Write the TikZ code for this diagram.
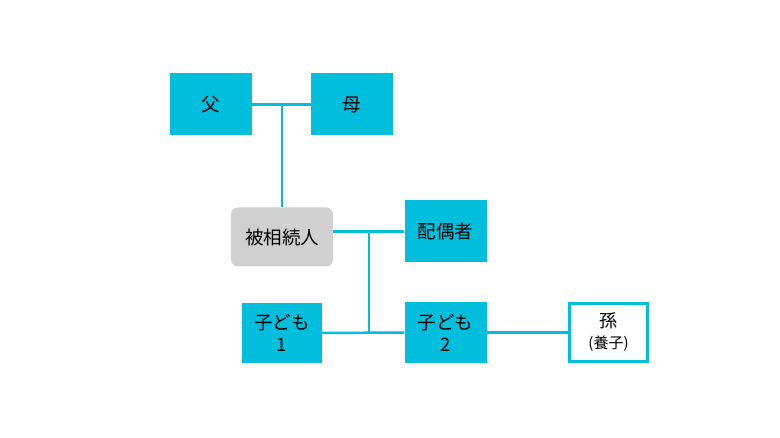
\documentclass[tikz,border=0pt]{standalone}
\usepackage{fontspec}
\newfontfamily\jpfont{Noto Sans CJK JP}
\usetikzlibrary{calc}
\definecolor{famcyan}{HTML}{00BEDC}
\definecolor{famgray}{HTML}{D0D0D0}
\tikzset{
  person/.style={fill=famcyan, draw=none, minimum width=82pt, minimum height=62pt,
    inner sep=0pt, align=center, font=\jpfont\fontsize{18.5}{22}\selectfont},
  heir/.style={person, fill=famgray, rounded corners=7pt, minimum width=102pt, minimum height=59pt},
  adopted/.style={person, fill=white, draw=famcyan, line width=2.8pt,
    minimum width=78pt, minimum height=58pt, font=\jpfont\fontsize{18}{21}\selectfont},
  link/.style={draw=famcyan, line width=2.5pt}
}
\begin{document}
\begin{tikzpicture}[x=1pt, y=-1pt]
                                \useasboundingbox (0,0) rectangle (780,438);

                                \node[person] (father) at (211,104.5) {父};
                                \node[person] (mother) at (352,104.5) {母};
                                \node[heir] (heir) at (282,237) {被相続人};
                                \node[person] (spouse) at (445.5,231.5) {配偶者};
                                \node[person, minimum width=80pt, minimum height=60pt] (childa) at (282,333) {子ども\\1};
                                \node[person, minimum height=61pt] (childb) at (445.5,332.5) {子ども\\2};
                                \node[adopted] (grandchild) at (608.5,332.5) {孫\\{\fontsize{15}{16}\selectfont (養子)}};

                                \draw[link] (father.east) -- (mother.west);
                                \draw[link] (heir.north) -- (heir.north |- father.east);

                                \coordinate (sjoin) at ($(heir.east |- spouse.west)!.5!(spouse.west)$);
                                \draw[link] (heir.east |- spouse.west) -- (spouse.west);
                                \draw[link] (sjoin) -- (sjoin |- childa.east);

                                \draw[link] (childa.east) -- (childb.west);
                                \draw[link] (childb.east) -- (grandchild.west);

                            \end{tikzpicture}
\end{document}
